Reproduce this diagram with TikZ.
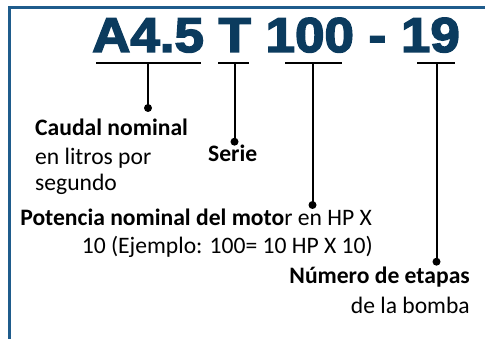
\documentclass[tikz,border=0pt]{standalone}
\usepackage{fontspec}
\setmainfont{Carlito}
\newfontfamily\titlefont[BoldFeatures={FakeBold=3}]{Liberation Sans}
\definecolor{navy}{HTML}{0B3B5E}
\definecolor{framecol}{HTML}{1F5C8C}
\tikzset{
  lbl/.style={inner sep=0pt, font=\fontsize{23.6}{28}\selectfont},
  lblb/.style={lbl, font=\fontsize{23.6}{28}\selectfont\bfseries},
  dotn/.style={circle, fill=black, inner sep=0pt, minimum size=8pt},
  conn/.style={line width=2pt, black},
}
\begin{document}
\begin{tikzpicture}[x=1pt,y=1pt]
\useasboundingbox (0,0) rectangle (485,339);
% frame
\draw[framecol, line width=3pt] (9.5,-2) -- (9.5,331.5) -- (487,331.5);
% title
\node[anchor=base west, inner sep=0pt, text=navy, font=\titlefont\bfseries\fontsize{49}{49}\selectfont] (title) at (92,287) {\scalebox{1.08}[1]{A4.5 T 100 - 19}};
% underline coordinates
\coordinate (u1l) at (96,276.3);  \coordinate (u1r) at (201,276.3); \coordinate (u1m) at (148,276.3);
\coordinate (u2l) at (218,276.3); \coordinate (u2r) at (249,276.3); \coordinate (u2m) at (234.5,276.3);
\coordinate (u3l) at (285,276.3); \coordinate (u3r) at (342,276.3); \coordinate (u3m) at (312.5,276.3);
\coordinate (u4l) at (417,276.3); \coordinate (u4r) at (455,276.3); \coordinate (u4m) at (436.5,276.3);
% dots
\node[dotn] (d1) at (148,231) {};
\node[dotn] (d2) at (234.5,197.3) {};
\node[dotn] (d3) at (312.5,134) {};
\node[dotn] (d4) at (436.5,77.3) {};
% connectors
\draw[conn] (u1l) -- (u1r);
\draw[conn] (u2l) -- (u2r);
\draw[conn] (u3l) -- (u3r);
\draw[conn] (u4l) -- (u4r);
\draw[conn] (u1m) -- (d1.center);
\draw[conn] (u2m) -- (d2.center);
\draw[conn] (u3m) -- (d3.center);
\draw[conn] (u4m) -- (d4.center);
% labels
\node[lblb, anchor=base west] (c1) at (35,203) {Caudal nominal};
\node[lbl, anchor=base west] (c2) at (35,174) {en litros por};
\node[lbl, anchor=base west] (c3) at (35,148) {segundo};
\node[lblb, anchor=base west] (s1) at (208,177.3) {Serie};
\node[lbl, anchor=base east] (p1) at (372,113) {\textbf{Potencia nominal del moto}r en HP X};
\node[lbl, anchor=base east] (p2) at (373,85.7) {10 (Ejemplo: 100= 10 HP X 10)};
\node[lblb, anchor=base east] (n1) at (470,55.7) {Número de etapas};
\node[lbl, anchor=base east] (n2) at (470,25.7) {de la bomba};
\end{tikzpicture}
\end{document}
